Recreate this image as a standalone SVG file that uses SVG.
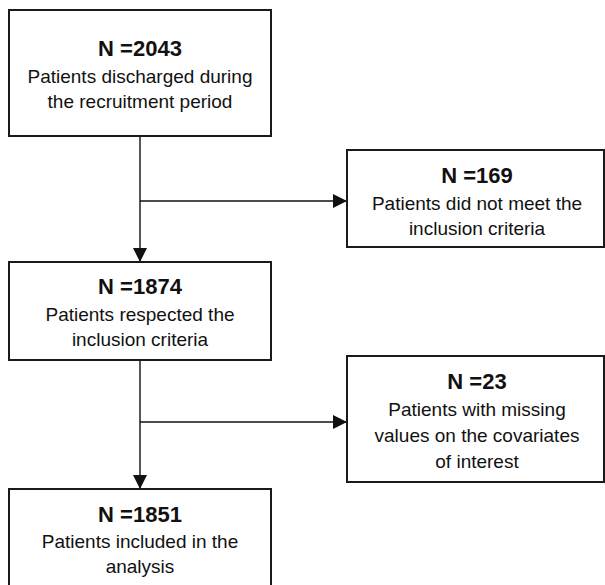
<svg xmlns="http://www.w3.org/2000/svg" width="605" height="585" viewBox="0 0 605 585">
<defs>
<style>
.box{fill:#fff;stroke:#1a1a1a;stroke-width:2}
.t{font-family:"Liberation Sans",Arial,sans-serif;font-weight:bold;font-size:22px;fill:#111;text-anchor:middle}
.b{font-family:"Liberation Sans",Arial,sans-serif;font-size:19px;fill:#111;text-anchor:middle}
.ln{stroke:#111;stroke-width:1.4;fill:none}
</style>
<marker id="ah" markerWidth="14" markerHeight="14" viewBox="0 0 14 14" refX="14" refY="7" orient="auto" markerUnits="userSpaceOnUse">
<path d="M0,0 L14,7 L0,14 Z" fill="#111"/>
</marker>
</defs>
<rect width="605" height="585" fill="#fff"/>
<g id="connectors">
<path class="ln" d="M140,136 V262" marker-end="url(#ah)"/>
<path class="ln" d="M140,201 H347" marker-end="url(#ah)"/>
<path class="ln" d="M140,360 V489" marker-end="url(#ah)"/>
<path class="ln" d="M140,422 H347" marker-end="url(#ah)"/>
</g>
<g id="n2043">
<rect class="box" x="9" y="10" width="262" height="126"/>
<text class="t" x="140" y="56">N =2043</text>
<text class="b" x="140" y="83">Patients discharged during</text>
<text class="b" x="140" y="108">the recruitment period</text>
</g>
<g id="n169">
<rect class="box" x="347" y="150" width="257" height="97"/>
<text class="t" x="477" y="183">N =169</text>
<text class="b" x="477" y="210">Patients did not meet the</text>
<text class="b" x="477" y="235">inclusion criteria</text>
</g>
<g id="n1874">
<rect class="box" x="9" y="262" width="262" height="98"/>
<text class="t" x="140" y="294">N =1874</text>
<text class="b" x="140" y="321">Patients respected the</text>
<text class="b" x="140" y="346">inclusion criteria</text>
</g>
<g id="n23">
<rect class="box" x="347" y="356" width="257" height="126"/>
<text class="t" x="477" y="389">N =23</text>
<text class="b" x="477" y="416">Patients with missing</text>
<text class="b" x="477" y="442">values on the covariates</text>
<text class="b" x="477" y="468">of interest</text>
</g>
<g id="n1851">
<rect class="box" x="9" y="489" width="262" height="110"/>
<text class="t" x="140" y="522">N =1851</text>
<text class="b" x="140" y="548">Patients included in the</text>
<text class="b" x="140" y="573">analysis</text>
</g>
</svg>
